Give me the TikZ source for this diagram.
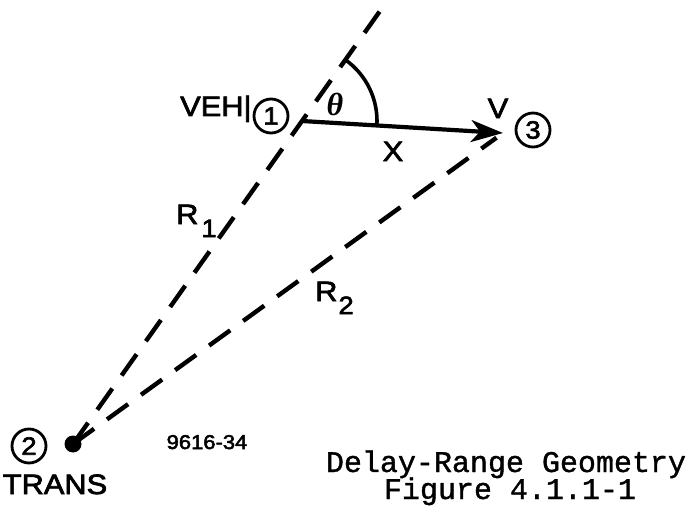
\documentclass[tikz,border=0pt]{standalone}
\usepackage{fontspec}
\setmainfont{Liberation Sans}[FakeStretch=1.1, FakeBold=2.5]
\newfontfamily\capfont{Liberation Mono}[FakeBold=1.2]
\newfontfamily\greekfont{Liberation Serif}
\usetikzlibrary{arrows.meta,calc}
\tikzset{
  dashln/.style={line width=4.4pt, dash pattern=on 26pt off 16pt},
  solidln/.style={line width=4.2pt},
  numcirc/.style={draw, circle, line width=2.8pt, minimum size=34pt, inner sep=0pt,
    font=\fontsize{25}{25}\selectfont},
  lbl/.style={font=\fontsize{28}{28}\selectfont, inner sep=0pt},
  dotnode/.style={circle, fill, minimum size=17pt, inner sep=0pt},
  caption/.style={font=\capfont\fontsize{30}{30}\selectfont, inner sep=0pt},
}
\newcommand{\subnum}[1]{\raisebox{-13pt}{\fontsize{25}{25}\selectfont #1}}
\begin{document}
\begin{tikzpicture}[x=1pt,y=-1pt]
\useasboundingbox (0,0) rectangle (697,511);
\fill[white] (0,0) rectangle (697,511);
% points
\coordinate (veh) at (302,121);
\coordinate (tip) at (503,133);
\node[dotnode] (trans) at (73,444) {};
\coordinate (top) at ($(trans.center)!1.366!(veh)$);
% range lines
\draw[dashln] (trans.center) -- (top);
\draw[dashln, shorten >=8pt] (trans.center) -- (tip);
% velocity vector
\draw[solidln, -{Stealth[length=32pt,width=22pt,inset=9pt]}] (veh) -- (tip);
% angle arc
\draw[line width=3.6pt] (veh) ++(3.4:75) arc[start angle=3.4, end angle=-54.7, radius=75];
% numbered circles
\node[numcirc] (c1) at (271,116) {1};
\node[numcirc] (c3) at (533,130) {3};
\node[numcirc] (c2) at (29,446) {2};
% labels
\node[lbl, anchor=base west] (veh lbl) at (180,116) {VEH|};
\node[lbl, anchor=base] (trans lbl) at (55,494) {TRANS};
\node[font=\fontsize{20}{20}\selectfont, inner sep=0pt, anchor=base] (fig no) at (207,449) {9616-34};
\node[lbl, anchor=base] (v lbl) at (498,118) {V};
\node[lbl, anchor=base] (x lbl) at (393,161) {X};
\node[font=\greekfont\bfseries\itshape\fontsize{32}{32}\selectfont, inner sep=0pt] (theta lbl) at (335,104) {θ};
\node[lbl, anchor=base west] (r1) at (176,224) {R\hspace{3pt}\subnum{1}};
\node[lbl, anchor=base west] (r2) at (315,301) {R\hspace{1pt}\subnum{2}};
\node[caption, anchor=base, text depth=0pt] (cap1) at (506,472) {Delay-Range Geometry};
\node[caption, anchor=base, text height=17pt] (cap2) at (510,499) {Figure 4.1.1-1};
\end{tikzpicture}
\end{document}
